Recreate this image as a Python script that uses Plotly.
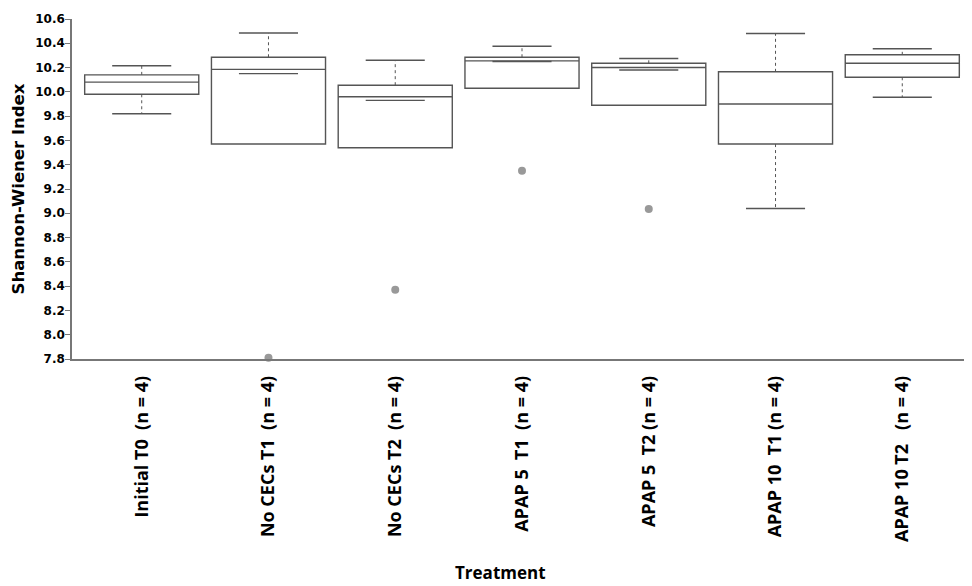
import plotly.graph_objects as go

NB = "\u00a0"
categories = [
    "Initial T0  (n = 4)",
    "No CECs T1  (n = 4)",
    "No CECs T2  (n = 4)",
    "APAP 5  T1  (n = 4)",
    "APAP 5  T2 (n = 4)",
    "APAP 10  T1 (n = 4)",
    "APAP 10 T2   (n = 4)",
]
q1 = [9.98, 9.57, 9.54, 10.03, 9.89, 9.57, 10.12]
median = [10.08, 10.185, 9.96, 10.255, 10.20, 9.90, 10.235]
q3 = [10.14, 10.285, 10.055, 10.285, 10.235, 10.165, 10.305]
lower_whisker = [9.82, 10.15, 9.93, 10.25, 10.18, 9.04, 9.955]
upper_whisker = [10.215, 10.485, 10.26, 10.375, 10.275, 10.48, 10.355]
outlier_cat = [1, 2, 3, 4]
outlier_val = [7.81, 8.37, 9.35, 9.035]
y_ticks = [7.8, 8.0, 8.2, 8.4, 8.6, 8.8, 9.0, 9.2, 9.4, 9.6, 9.8, 10.0, 10.2, 10.4, 10.6]

LINE = "#555555"
BOX_W = 0.9
CAP_HALF = 0.233

fig = go.Figure()
pos = list(range(len(categories)))

for i in pos:
    fig.add_trace(go.Box(
        x=[i], q1=[q1[i]], median=[median[i]], q3=[q3[i]],
        lowerfence=[q1[i]], upperfence=[q3[i]],
        width=BOX_W, whiskerwidth=0,
        fillcolor="white", line=dict(color=LINE, width=1.4),
        boxpoints=False, showlegend=False, hoverinfo="skip",
    ))

for i in pos:
    if upper_whisker[i] > q3[i]:
        fig.add_trace(go.Scatter(x=[i, i], y=[q3[i], upper_whisker[i]], mode="lines",
                                 line=dict(color=LINE, width=1, dash="dot"),
                                 showlegend=False, hoverinfo="skip"))
    if lower_whisker[i] < q1[i]:
        fig.add_trace(go.Scatter(x=[i, i], y=[q1[i], lower_whisker[i]], mode="lines",
                                 line=dict(color=LINE, width=1, dash="dot"),
                                 showlegend=False, hoverinfo="skip"))

for i in pos:
    for v in (upper_whisker[i], lower_whisker[i]):
        fig.add_trace(go.Scatter(x=[i - CAP_HALF, i + CAP_HALF], y=[v, v], mode="lines",
                                 line=dict(color=LINE, width=1.4),
                                 showlegend=False, hoverinfo="skip"))

fig.add_trace(go.Scatter(x=outlier_cat, y=outlier_val, mode="markers",
                         marker=dict(color="#999999", size=8),
                         cliponaxis=False, showlegend=False, hoverinfo="skip"))

# page has an 8px body margin; figure size and margins compensate for it
fig.update_layout(
    width=964, height=578,
    margin=dict(l=64, r=0, t=11, b=227),
    plot_bgcolor="white", paper_bgcolor="white",
    font=dict(family="DejaVu Sans", color="black"),
)
fig.update_xaxes(
    range=[-0.55, 6.55], tickmode="array", tickvals=pos,
    ticktext=["<b>" + c.replace(" ", NB) + "</b>" for c in categories],
    tickangle=-90, tickfont=dict(size=18, family="Open Sans"),
    ticklabelstandoff=8,
    showline=True, linecolor="#777777", linewidth=1.5, ticks="", showgrid=False, zeroline=False,
    automargin=False,
)
fig.update_yaxes(
    range=[7.8, 10.6], tickmode="array", tickvals=y_ticks,
    ticktext=["<b>%.1f</b>" % v for v in y_ticks],
    tickfont=dict(size=12, family="DejaVu Sans"),
    ticklabelstandoff=-2,
    showline=True, linecolor="#777777", linewidth=1.5, ticks="outside", ticklen=5, tickcolor="#777777",
    showgrid=False, zeroline=False, automargin=False,
    title=dict(text="<b>Shannon-Wiener Index</b>", font=dict(size=16.5, family="DejaVu Sans"), standoff=6),
)
fig.add_annotation(
    text="<b>Treatment</b>", xref="paper", yref="paper",
    x=(500 - 72) / 900, y=(359 - 572) / 340, xanchor="center", yanchor="middle",
    showarrow=False, font=dict(size=17, family="Open Sans", color="black"),
)
fig.write_html("out.html")
